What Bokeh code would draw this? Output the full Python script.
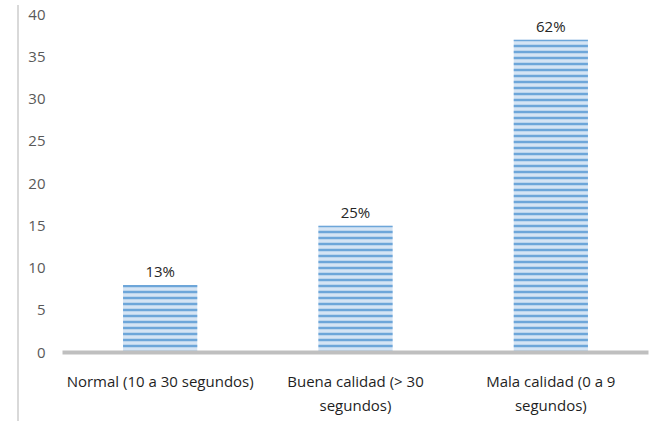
from bokeh.plotting import figure
from bokeh.models import ColumnDataSource, Div, Range1d, LabelSet
from bokeh.core.properties import value
from bokeh.layouts import row
from bokeh.embed import file_html
from bokeh.resources import INLINE

categories = ["Normal (10 a 30 segundos)", "Buena calidad (> 30\nsegundos)", "Mala calidad (0 a 9\nsegundos)"]
values = [8, 15, 37]
pct_labels = ["13%", "25%", "62%"]

src = ColumnDataSource(dict(cat=categories, val=values, lab=pct_labels))

FONT = "Open Sans"

p = figure(x_range=categories, y_range=Range1d(0, 40), width=634, height=421,
           output_backend="svg", toolbar_location=None,
           min_border_left=43, min_border_right=5, min_border_top=14, min_border_bottom=69)
p.outline_line_color = None
p.grid.grid_line_color = None
p.background_fill_color = "white"

p.vbar(x="cat", top="val", width=0.38, source=src,
       fill_color="#d5e4f4", line_color=None,
       hatch_pattern="-", hatch_color="#5b9bd5", hatch_scale=6, hatch_weight=2.5, hatch_alpha=0.85)

labels = LabelSet(x="cat", y="val", text="lab", source=src, text_align="center",
                  text_baseline="bottom", y_offset=4, text_font=value(FONT),
                  text_font_size=value("15px"), text_color=value("#262626"))
p.add_layout(labels)

p.yaxis.ticker = [0, 5, 10, 15, 20, 25, 30, 35, 40]
p.yaxis.axis_line_color = None
p.yaxis.major_tick_line_color = None
p.yaxis.minor_tick_line_color = None
p.yaxis.major_label_text_font = FONT
p.yaxis.major_label_text_font_size = "15px"
p.yaxis.major_label_text_color = "#595959"
p.yaxis.major_label_standoff = 11

p.xaxis.axis_line_color = "#bfbfbf"
p.xaxis.axis_line_width = 4
p.xaxis.major_tick_line_color = None
p.xaxis.minor_tick_line_color = None
p.xaxis.major_label_text_font = FONT
p.xaxis.major_label_text_font_size = "15px"
p.xaxis.major_label_text_color = "#1f1f1f"
p.xaxis.major_label_standoff = 12

bar = Div(text="", width=2, height=416, margin=(5, 0, 0, 17),
          styles={"background-color": "#d9d9d9"})
layout = row(bar, p)

open("out.html", "w").write(file_html(layout, INLINE))
